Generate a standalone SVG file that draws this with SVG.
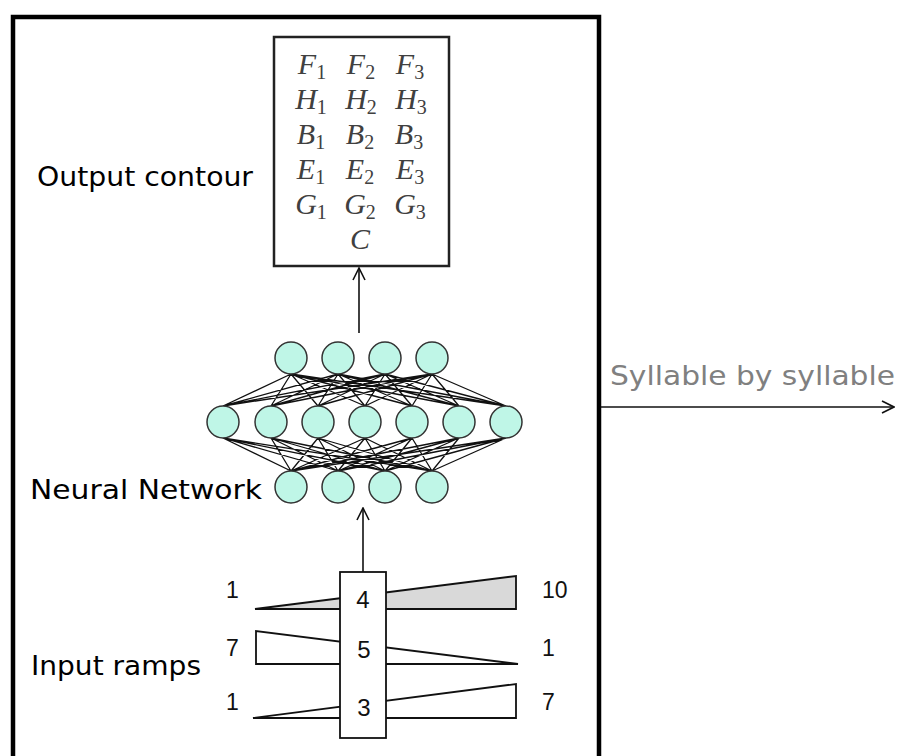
<svg xmlns="http://www.w3.org/2000/svg" width="898" height="756" viewBox="0 0 898 756">
<style>
.lbl{font-family:"DejaVu Sans","Liberation Sans",sans-serif;font-size:27px;fill:#000}
.gray{fill:#808080}
.num{font-family:"Liberation Sans",Arial,sans-serif;font-size:23px;fill:#111}
.math{font-family:"Liberation Serif","Times New Roman",serif;font-style:italic;font-size:30px;fill:#404040;text-anchor:middle}
.math tspan.s{font-style:normal;font-size:20px}
.neuron{fill:#bff6e7;stroke:#333;stroke-width:1.5}
.w{stroke:#111;stroke-width:1.3;fill:none}
.edge{stroke:#111;stroke-width:1.6;fill:none}
.ramp{stroke:#111;stroke-width:1.8;stroke-linejoin:miter}
</style>
<defs>
<marker id="open" viewBox="0 0 14 14" refX="13" refY="7" markerWidth="14" markerHeight="14" markerUnits="userSpaceOnUse" orient="auto">
<path d="M1,1 L13,7 L1,13" fill="none" stroke="#111" stroke-width="1.6"/>
</marker>
</defs>
<rect width="898" height="756" fill="#fff"/>

<g id="frame">
<path d="M13,760 V17 H599 V760" fill="none" stroke="#000" stroke-width="4.5"/>
</g>

<g id="output-contour">
<rect x="274" y="37" width="175" height="229" fill="#fff" stroke="#222" stroke-width="2.5"/>
<text class="math"><tspan x="312" y="74">F<tspan class="s" dy="5">1</tspan></tspan><tspan x="361" y="74">F<tspan class="s" dy="5">2</tspan></tspan><tspan x="410" y="74">F<tspan class="s" dy="5">3</tspan></tspan></text>
<text class="math"><tspan x="311" y="109">H<tspan class="s" dy="5">1</tspan></tspan><tspan x="361" y="109">H<tspan class="s" dy="5">2</tspan></tspan><tspan x="411" y="109">H<tspan class="s" dy="5">3</tspan></tspan></text>
<text class="math"><tspan x="311" y="144">B<tspan class="s" dy="5">1</tspan></tspan><tspan x="360" y="144">B<tspan class="s" dy="5">2</tspan></tspan><tspan x="409" y="144">B<tspan class="s" dy="5">3</tspan></tspan></text>
<text class="math"><tspan x="311" y="179">E<tspan class="s" dy="5">1</tspan></tspan><tspan x="360" y="179">E<tspan class="s" dy="5">2</tspan></tspan><tspan x="410" y="179">E<tspan class="s" dy="5">3</tspan></tspan></text>
<text class="math"><tspan x="311" y="214">G<tspan class="s" dy="5">1</tspan></tspan><tspan x="360" y="214">G<tspan class="s" dy="5">2</tspan></tspan><tspan x="410" y="214">G<tspan class="s" dy="5">3</tspan></tspan></text>
<text class="math" x="360" y="249">C</text>
</g>

<g id="label-output"><text class="lbl" x="37" y="186" textLength="216" lengthAdjust="spacingAndGlyphs">Output contour</text></g>
<g id="label-network"><text class="lbl" x="30" y="499" textLength="232" lengthAdjust="spacingAndGlyphs">Neural Network</text></g>
<g id="label-input"><text class="lbl" x="31" y="675" textLength="170" lengthAdjust="spacingAndGlyphs">Input ramps</text></g>
<g id="label-syllable"><text class="lbl gray" x="610" y="385" textLength="285" lengthAdjust="spacingAndGlyphs">Syllable by syllable</text></g>

<g id="neural-network">
<g id="weights" class="w">
<path d="M291,374L223,406M291,374L271,406M291,374L318,406M291,374L365,406M291,374L412,406M291,374L459,406M291,374L506,406
M338,374L223,406M338,374L271,406M338,374L318,406M338,374L365,406M338,374L412,406M338,374L459,406M338,374L506,406
M385,374L223,406M385,374L271,406M385,374L318,406M385,374L365,406M385,374L412,406M385,374L459,406M385,374L506,406
M432,374L223,406M432,374L271,406M432,374L318,406M432,374L365,406M432,374L412,406M432,374L459,406M432,374L506,406
M223,438L291,471M271,438L291,471M318,438L291,471M365,438L291,471M412,438L291,471M459,438L291,471M506,438L291,471
M223,438L338,471M271,438L338,471M318,438L338,471M365,438L338,471M412,438L338,471M459,438L338,471M506,438L338,471
M223,438L385,471M271,438L385,471M318,438L385,471M365,438L385,471M412,438L385,471M459,438L385,471M506,438L385,471
M223,438L432,471M271,438L432,471M318,438L432,471M365,438L432,471M412,438L432,471M459,438L432,471M506,438L432,471"/>
</g>
<g id="layer-top">
<circle class="neuron" cx="291" cy="358" r="16"/><circle class="neuron" cx="338" cy="358" r="16"/><circle class="neuron" cx="385" cy="358" r="16"/><circle class="neuron" cx="432" cy="358" r="16"/>
</g>
<g id="layer-middle">
<circle class="neuron" cx="223" cy="422" r="16"/><circle class="neuron" cx="271" cy="422" r="16"/><circle class="neuron" cx="318" cy="422" r="16"/><circle class="neuron" cx="365" cy="422" r="16"/><circle class="neuron" cx="412" cy="422" r="16"/><circle class="neuron" cx="459" cy="422" r="16"/><circle class="neuron" cx="506" cy="422" r="16"/>
</g>
<g id="layer-bottom">
<circle class="neuron" cx="291" cy="487" r="16"/><circle class="neuron" cx="338" cy="487" r="16"/><circle class="neuron" cx="385" cy="487" r="16"/><circle class="neuron" cx="432" cy="487" r="16"/>
</g>
</g>

<g id="input-ramps">
<polygon class="ramp" points="255,609 516,576 516,609" fill="#d9d9d9"/>
<polygon class="ramp" points="256,631 256,664 518,664" fill="#fff"/>
<polygon class="ramp" points="253,718 516,684 516,718" fill="#fff"/>
<rect x="340" y="572" width="46" height="166" fill="#fff" stroke="#111" stroke-width="1.8"/>
<text class="num" x="363" y="608" text-anchor="middle" style="font-size:24px">4</text>
<text class="num" x="364" y="658" text-anchor="middle" style="font-size:24px">5</text>
<text class="num" x="364" y="716" text-anchor="middle" style="font-size:24px">3</text>
<text class="num" x="226" y="598">1</text>
<text class="num" x="542" y="598">10</text>
<text class="num" x="226" y="656">7</text>
<text class="num" x="542" y="656">1</text>
<text class="num" x="226" y="710">1</text>
<text class="num" x="542" y="710">7</text>
</g>

<g id="connectors">
<line class="edge" x1="359" y1="333" x2="359" y2="268" marker-end="url(#open)"/>
<line class="edge" x1="363" y1="572" x2="363" y2="508" marker-end="url(#open)"/>
<line class="edge" x1="601" y1="407" x2="894" y2="407" marker-end="url(#open)"/>
</g>
</svg>
